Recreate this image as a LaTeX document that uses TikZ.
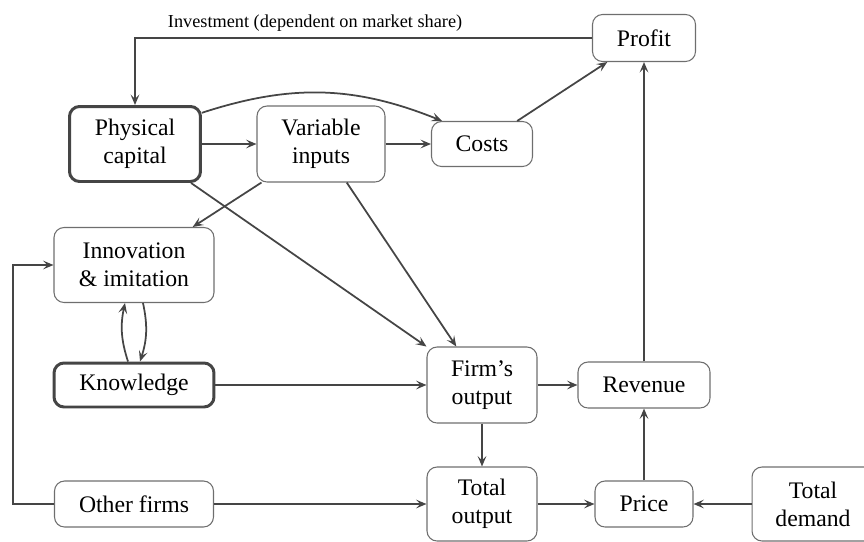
\documentclass[tikz,border=0pt]{standalone}
\usepackage{fontspec}
\setmainfont{Liberation Serif}
\usetikzlibrary{arrows.meta}
\definecolor{edgegray}{HTML}{454545}
\definecolor{boxgray}{HTML}{6E6E6E}
\tikzset{
  box/.style={draw=boxgray, line width=0.6pt, rounded corners=0.2cm, align=center,
    inner sep=2pt, font=\fontsize{13.5}{15.9}\selectfont},
  thickbox/.style={box, draw=edgegray, line width=1.7pt},
  link/.style={draw=edgegray, line width=1pt, -{Stealth[length=6pt,width=5pt,inset=2.5pt]}},
}
\begin{document}
\begin{tikzpicture}[x=0.02cm, y=-0.02cm]
\path[use as bounding box, clip] (0,0) rectangle (864,541);
\begin{scope}[every node/.style={box}]
  \node[minimum width=2.06cm, minimum height=0.94cm] (profit) at (644,38) {Profit};
  \node[thickbox, minimum width=2.62cm, minimum height=1.50cm] (phys) at (135,144) {Physical\\capital};
  \node[minimum width=2.56cm, minimum height=1.52cm] (varin) at (321,144) {Variable\\inputs};
  \node[minimum width=2.02cm, minimum height=0.90cm] (costs) at (482,144) {Costs};
  \node[minimum width=3.20cm, minimum height=1.50cm] (innov) at (134,265) {Innovation\\\& imitation};
  \node[thickbox, minimum width=3.20cm, minimum height=0.88cm] (know) at (134,385) {Knowledge};
  \node[minimum width=2.20cm, minimum height=1.52cm] (firm) at (482,385) {Firm's\\output};
  \node[minimum width=2.64cm, minimum height=0.92cm] (rev) at (644,385) {Revenue};
  \node[minimum width=3.18cm, minimum height=0.92cm] (other) at (134,504) {Other firms};
  \node[minimum width=2.20cm, minimum height=1.48cm] (total) at (482,504) {Total\\output};
  \node[minimum width=1.96cm, minimum height=0.92cm] (price) at (644,504) {Price};
  \node[minimum width=2.44cm, minimum height=1.48cm] (demand) at (813,504) {Total\\demand};
\end{scope}
\coordinate (loop) at (13,504);
\begin{scope}[every edge/.style={link}]
  \path (phys) edge (varin);
  \path (phys.25) edge[bend left=20] (costs.150);
  \path (varin) edge (costs);
  \path (costs) edge (profit);
  \path (rev) edge (profit);
  \path (varin) edge (innov);
  \path (phys) edge (firm);
  \path (varin) edge (firm);
  \path ([xshift=-0.12cm]know.north) edge[bend left=15] ([xshift=-0.18cm]innov.south);
  \path ([xshift=0.18cm]innov.south) edge[bend left=15] ([xshift=0.12cm]know.north);
  \path (know) edge (firm);
  \path (firm) edge (rev);
  \path (firm) edge (total);
  \path (other) edge (total);
  \path (total) edge (price);
  \path (demand) edge (price);
  \path (price) edge (rev);
\end{scope}
\draw[link] (profit.west) -| node[pos=0.303, above, font=\fontsize{10.4}{12}\selectfont] {Investment (dependent on market share)} (phys.north);
\draw[link] (other.west) -- (loop) |- (innov.west);
\end{tikzpicture}
\end{document}
